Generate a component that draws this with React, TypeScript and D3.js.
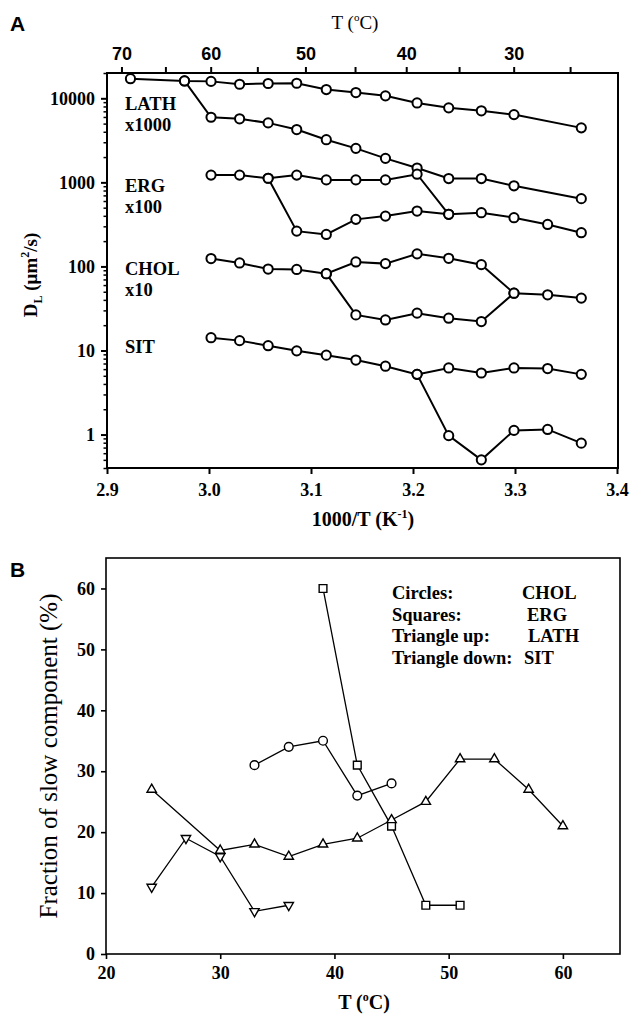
import React, { useRef, useEffect } from 'react';
import * as d3 from 'd3';

// ---- panel A data (1000/T in K^-1, D_L in um^2/s, scaled as labelled) ----
const invT = [2.923, 2.976, 3.002, 3.030, 3.058, 3.086, 3.115, 3.144, 3.173, 3.204, 3.235, 3.267, 3.299, 3.332, 3.365];

const lathFast = [17100, 16100, 15900, 14700, 15000, 15100, 12700, 11700, 10700, 8800, 7700, 7100, 6400, null, 4450];
const lathSlow = [null, 16100, 5950, 5700, 5100, 4250, 3220, 2540, 1930, 1480, 1110, 1110, 910, null, 640];
const ergFast = [null, null, 1220, 1220, 1120, 1220, 1070, 1070, 1070, 1250, 417, null, null, null, null];
const ergSlow = [null, null, null, null, 1120, 263, 240, 363, 397, 456, 417, 436, 380, 316, 252];
const cholFast = [null, null, 124, 110, 93, 92, 82, 113, 108, 141, 125, 105, 48, 46, 42];
const cholSlow = [null, null, null, null, null, null, 82, 26.5, 23.1, 27.8, 24.2, 22.1, 48, null, null];
const sitFast = [null, null, 14.2, 13.1, 11.4, 9.9, 8.8, 7.7, 6.5, 5.2, 6.2, 5.4, 6.2, 6.1, 5.2];
const sitSlow = [null, null, null, null, null, null, null, null, null, 5.2, 0.97, 0.5, 1.12, 1.15, 0.79];

const seriesA = [lathFast, lathSlow, ergFast, ergSlow, cholFast, cholSlow, sitFast, sitSlow];

const xTicksA = [2.9, 3.0, 3.1, 3.2, 3.3, 3.4];
const yMajorA = [1, 10, 100, 1000, 10000];
const topTicksT = [70, 65, 60, 55, 50, 45, 40, 35, 30, 25];

const groupLabels = [
  { lines: ['LATH', 'x1000'], y: 110 },
  { lines: ['ERG', 'x100'], y: 192 },
  { lines: ['CHOL', 'x10'], y: 275 },
  { lines: ['SIT'], y: 353 },
];

// ---- panel B data (T in C, fraction of slow component in %) ----
const cholT = [33, 36, 39, 42, 45];
const cholFrac = [31, 34, 35, 26, 28];
const ergT = [39, 42, 45, 48, 51];
const ergFrac = [60, 31, 21, 8, 8];
const lathT = [24, 30, 33, 36, 39, 42, 45, 48, 51, 54, 57, 60];
const lathFrac = [27, 17, 18, 16, 18, 19, 22, 25, 32, 32, 27, 21];
const sitT = [24, 27, 30, 33, 36];
const sitFrac = [11, 19, 16, 7, 8];

const xTicksB = [20, 30, 40, 50, 60];
const yTicksB = [0, 10, 20, 30, 40, 50, 60];

const legendB = [
  ['Circles:', 'CHOL', 522],
  ['Squares:', 'ERG', 527],
  ['Triangle up:', 'LATH', 528],
  ['Triangle down:', 'SIT', 524],
];

const SERIF = '"Liberation Serif", "Times New Roman", serif';
const SANS = '"Liberation Sans", Arial, sans-serif';
const NARROW = '"Liberation Sans Narrow", "Arial Narrow", "Liberation Sans", sans-serif';

const W = 631;
const H = 1014;

const App = () => {
  const svgRef = useRef<SVGSVGElement>(null);

  useEffect(() => {
    if (!svgRef.current) return;
    const svg = d3.select(svgRef.current);
    svg.selectAll('*').remove();

    const styleAxis = (g, size, family, weight, lw) => {
      g.select('.domain').remove();
      g.selectAll('line').attr('stroke', '#000').attr('stroke-width', lw);
      g.selectAll('text')
        .attr('fill', '#000')
        .attr('font-family', family)
        .attr('font-weight', weight)
        .attr('font-size', size);
    };

    // ================= Panel A =================
    const A = { l: 107, r: 617, t: 73, b: 468 };
    const xA = d3.scaleLinear().domain([2.9, 3.4]).range([A.l, A.r]);
    const yA = d3.scaleLog().domain([0.4, 20000]).range([A.b, A.t]);

    // minor log ticks
    const minorA: number[] = [];
    [0.1, 1, 10, 100, 1000, 10000].forEach(dec => {
      for (let k = 2; k <= 9; k++) {
        const v = dec * k;
        if (v >= 0.4 && v <= 20000) minorA.push(v);
      }
    });
    svg.append('g')
      .attr('transform', `translate(${A.l},0)`)
      .call(d3.axisLeft(yA).tickValues(minorA).tickSize(3.5).tickFormat(() => ''))
      .call(g => styleAxis(g, 18, SERIF, 'bold', 1.5));
    svg.append('g')
      .attr('transform', `translate(${A.l},0)`)
      .call(d3.axisLeft(yA).tickValues(yMajorA).tickSize(6).tickPadding(6).tickFormat(d3.format('d')))
      .call(g => styleAxis(g, 18, SERIF, 'bold', 2));

    svg.append('g')
      .attr('transform', `translate(0,${A.b})`)
      .call(d3.axisBottom(xA).tickValues(xTicksA).tickSize(6).tickPadding(9).tickFormat(d3.format('.1f')))
      .call(g => styleAxis(g, 18, SERIF, 'bold', 2));

    svg.append('g')
      .attr('transform', `translate(0,${A.t})`)
      .call(d3.axisTop(xA)
        .tickValues(topTicksT.map(t => 1000 / (t + 273.15)))
        .tickSize(6).tickPadding(7)
        .tickFormat((d, i) => (topTicksT[i] % 10 === 0 ? String(topTicksT[i]) : '')))
      .call(g => styleAxis(g, 18, NARROW, 'bold', 2));

    svg.append('rect')
      .attr('x', A.l).attr('y', A.t)
      .attr('width', A.r - A.l + 1).attr('height', A.b - A.t)
      .attr('fill', 'none').attr('stroke', '#000').attr('stroke-width', 2);

    const lineA = d3.line<[number, number]>()
      .x(d => xA(d[0]))
      .y(d => yA(d[1]));

    seriesA.forEach(s => {
      const pts = s
        .map((v, i) => [invT[i], v] as [number, number | null])
        .filter(d => d[1] != null) as [number, number][];
      svg.append('path')
        .datum(pts)
        .attr('fill', 'none')
        .attr('stroke', '#000')
        .attr('stroke-width', 2)
        .attr('d', lineA);
    });
    seriesA.forEach(s => {
      const pts = s
        .map((v, i) => [invT[i], v] as [number, number | null])
        .filter(d => d[1] != null) as [number, number][];
      svg.append('g')
        .selectAll('circle')
        .data(pts)
        .enter()
        .append('circle')
        .attr('cx', d => xA(d[0]))
        .attr('cy', d => yA(d[1]))
        .attr('r', 4.6)
        .attr('fill', '#fff')
        .attr('stroke', '#000')
        .attr('stroke-width', 2);
    });

    // group labels
    groupLabels.forEach(gl => {
      gl.lines.forEach((txt, i) => {
        svg.append('text')
          .attr('x', 125)
          .attr('y', gl.y + i * 21)
          .attr('font-family', SERIF)
          .attr('font-weight', 'bold')
          .attr('font-size', 18.5)
          .text(txt);
      });
    });

    svg.append('text')
      .attr('x', 10).attr('y', 31)
      .attr('font-family', SANS).attr('font-weight', 'bold').attr('font-size', 21)
      .text('A');

    const tTop = svg.append('text')
      .attr('x', 355).attr('y', 29)
      .attr('text-anchor', 'middle')
      .attr('font-family', SERIF).attr('font-size', 19);
    tTop.append('tspan').text('T (');
    tTop.append('tspan').attr('font-size', 11).attr('dy', -8).text('o');
    tTop.append('tspan').attr('dy', 8).text('C)');

    const xLabA = svg.append('text')
      .attr('x', 363).attr('y', 526)
      .attr('text-anchor', 'middle')
      .attr('font-family', SERIF).attr('font-weight', 'bold').attr('font-size', 20);
    xLabA.append('tspan').text('1000/T (K');
    xLabA.append('tspan').attr('font-size', 12).attr('dy', -8).text('-1');
    xLabA.append('tspan').attr('dy', 8).text(')');

    const yLabA = svg.append('text')
      .attr('transform', 'translate(37,275) rotate(-90)')
      .attr('text-anchor', 'middle')
      .attr('font-family', SERIF).attr('font-weight', 'bold').attr('font-size', 19);
    yLabA.append('tspan').text('D');
    yLabA.append('tspan').attr('font-size', 12).attr('dy', 5).text('L');
    yLabA.append('tspan').attr('dy', -5).text(' (\u03bcm');
    yLabA.append('tspan').attr('font-size', 12).attr('dy', -8).text('2');
    yLabA.append('tspan').attr('dy', 8).text('/s)');

    // ================= Panel B =================
    const B = { l: 106, r: 620, t: 558, b: 954 };
    const xB = d3.scaleLinear().domain([20, 65]).range([B.l, B.r]);
    const yB = d3.scaleLinear().domain([0, 65]).range([B.b, B.t]);

    svg.append('g')
      .attr('transform', `translate(${B.l},0)`)
      .call(d3.axisLeft(yB).tickValues(yTicksB).tickSize(5).tickPadding(6).tickFormat(d3.format('d')))
      .call(g => styleAxis(g, 18, SERIF, 'bold', 1.6));
    svg.append('g')
      .attr('transform', `translate(0,${B.b})`)
      .call(d3.axisBottom(xB).tickValues(xTicksB).tickSize(5).tickPadding(7).tickFormat(d3.format('d')))
      .call(g => styleAxis(g, 18, SERIF, 'bold', 1.6));

    svg.append('rect')
      .attr('x', B.l).attr('y', B.t)
      .attr('width', B.r - B.l).attr('height', B.b - B.t)
      .attr('fill', 'none').attr('stroke', '#000').attr('stroke-width', 1.6);

    const lineB = d3.line<[number, number]>()
      .x(d => xB(d[0]))
      .y(d => yB(d[1]));

    const seriesB = [
      { t: cholT, v: cholFrac, sym: d3.symbolCircle, size: 60, rot: 0 },
      { t: ergT, v: ergFrac, sym: d3.symbolSquare, size: 60, rot: 0 },
      { t: lathT, v: lathFrac, sym: d3.symbolTriangle, size: 38, rot: 0 },
      { t: sitT, v: sitFrac, sym: d3.symbolTriangle, size: 38, rot: 180 },
    ];

    seriesB.forEach(s => {
      const pts = s.t.map((t, i) => [t, s.v[i]] as [number, number]);
      svg.append('path')
        .datum(pts)
        .attr('fill', 'none')
        .attr('stroke', '#000')
        .attr('stroke-width', 1.3)
        .attr('d', lineB);
    });
    seriesB.forEach(s => {
      const pts = s.t.map((t, i) => [t, s.v[i]] as [number, number]);
      const sym = d3.symbol().type(s.sym).size(s.size);
      svg.append('g')
        .selectAll('path')
        .data(pts)
        .enter()
        .append('path')
        .attr('transform', d => `translate(${xB(d[0])},${yB(d[1])}) rotate(${s.rot})`)
        .attr('d', sym() as string)
        .attr('fill', '#fff')
        .attr('stroke', '#000')
        .attr('stroke-width', 1.4);
    });

    legendB.forEach((row, i) => {
      svg.append('text')
        .attr('x', 392).attr('y', 599 + i * 21.7)
        .attr('font-family', SERIF).attr('font-weight', 'bold').attr('font-size', 18.5)
        .text(row[0] as string);
      svg.append('text')
        .attr('x', row[2] as number).attr('y', 599 + i * 21.7)
        .attr('font-family', SERIF).attr('font-weight', 'bold').attr('font-size', 18.5)
        .text(row[1] as string);
    });

    svg.append('text')
      .attr('x', 10).attr('y', 577)
      .attr('font-family', SANS).attr('font-weight', 'bold').attr('font-size', 21)
      .text('B');

    svg.append('text')
      .attr('transform', 'translate(57,756) rotate(-90)')
      .attr('text-anchor', 'middle')
      .attr('font-family', SERIF).attr('font-size', 25)
      .text('Fraction of slow component (%)');

    const xLabB = svg.append('text')
      .attr('x', 364).attr('y', 1009)
      .attr('text-anchor', 'middle')
      .attr('font-family', SERIF).attr('font-weight', 'bold').attr('font-size', 20);
    xLabB.append('tspan').text('T (');
    xLabB.append('tspan').attr('font-size', 12).attr('dy', -8).text('o');
    xLabB.append('tspan').attr('dy', 8).text('C)');
  }, []);

  return (
    <svg
      ref={svgRef}
      width={W}
      height={H}
      style={{ position: 'absolute', left: 0, top: 0, background: '#fff' }}
    />
  );
};

export default App;
